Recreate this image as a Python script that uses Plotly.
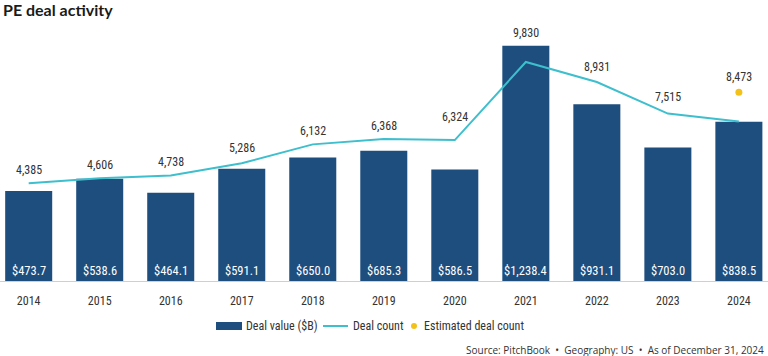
import plotly.graph_objects as go

years = ["2014", "2015", "2016", "2017", "2018", "2019", "2020", "2021", "2022", "2023", "2024"]
deal_value = [473.7, 538.6, 464.1, 591.1, 650.0, 685.3, 586.5, 1238.4, 931.1, 703.0, 838.5]
deal_count = [4385, 4606, 4738, 5286, 6132, 6368, 6324, 9830, 8931, 7515, 7160]
count_labels = [4385, 4606, 4738, 5286, 6132, 6368, 6324, 9830, 8931, 7515, 8473]
est_years = ["2024"]
est_count = [8473]
legend_names = ["Deal value ($B)", "Deal count", "Estimated deal count"]

BAR = "#1d4e7e"
LINE = "#3dbfcd"
DOT = "#f2c21b"
TXT = "#333333"
NARROW = "Liberation Sans Narrow, Arial Narrow, Roboto Condensed, DejaVu Sans Condensed, sans-serif"
FS = 12

W, H = 768, 356
ML, MR, MT, MB = 0, 0, 20, 75
PH = H - MT - MB
R1 = 1374.0
R2 = 11714.0


def px(xp):
    return (xp - ML) / (W - ML - MR)


def py(yp):
    return (H - MB - yp) / PH


fig = go.Figure()
fig.add_trace(go.Bar(x=years, y=deal_value, name=legend_names[0], marker_color=BAR,
                     marker_line_width=0, yaxis="y", showlegend=False))
fig.add_trace(go.Scatter(x=years, y=deal_count, name=legend_names[1], mode="lines",
                         line=dict(color=LINE, width=2), yaxis="y2", showlegend=False))
fig.add_trace(go.Scatter(x=est_years, y=est_count, name=legend_names[2], mode="markers",
                         marker=dict(color=DOT, size=7), yaxis="y2", showlegend=False))

annotations = []
shapes = []
# bar value labels
for i, v in enumerate(deal_value):
    annotations.append(dict(x=i, y=0, xref="x", yref="y", text=f"${v:,.1f}", showarrow=False,
                            yanchor="middle", yshift=11,
                            font=dict(family=NARROW, size=12.5, color="white")))
# count labels above line / bar / estimate
extra = {"2020": 10, "2023": 4, "2022": 2, "2024": 2, "2017": 2}
for i, yr in enumerate(years):
    base = max(deal_count[i], deal_value[i] * R2 / R1)
    if yr in est_years:
        base = max(base, est_count[est_years.index(yr)])
    annotations.append(dict(x=i, y=base, xref="x", yref="y2", text=f"{count_labels[i]:,}",
                            showarrow=False, yanchor="middle", yshift=13 + extra.get(yr, 0),
                            font=dict(family=NARROW, size=FS, color=TXT)))
# title
annotations.append(dict(x=0, y=py(9), xref="paper", yref="paper", text="<b>PE deal activity</b>",
                        showarrow=False, xanchor="left", yanchor="middle", xshift=1,
                        font=dict(family="Lato, Open Sans, sans-serif", size=16, color="#1a1a1a")))
# source
annotations.append(dict(x=1, y=py(350), xref="paper", yref="paper",
                        text="Source: PitchBook  •  Geography: US  •  As of December 31, 2024",
                        showarrow=False, xanchor="right", yanchor="middle", xshift=-2,
                        font=dict(family="Open Sans, sans-serif", size=10, color=TXT)))

# custom legend
LY = 326
shapes.append(dict(type="rect", xref="paper", yref="paper", x0=px(216), x1=px(242),
                   y0=py(LY + 4), y1=py(LY - 4), fillcolor=BAR, line_width=0))
shapes.append(dict(type="line", xref="paper", yref="paper", x0=px(323), x1=px(348),
                   y0=py(LY), y1=py(LY), line=dict(color=LINE, width=2)))
shapes.append(dict(type="circle", xref="paper", yref="paper", x0=px(411), x1=px(417),
                   y0=py(LY + 3), y1=py(LY - 3), fillcolor=DOT, line_width=0))
for name, xl in zip(legend_names, [244, 351, 422]):
    annotations.append(dict(x=px(xl), y=py(LY), xref="paper", yref="paper", text=name,
                            showarrow=False, xanchor="left", yanchor="middle",
                            font=dict(family=NARROW, size=FS, color=TXT)))

fig.update_layout(
    width=W, height=H,
    margin=dict(l=ML, r=MR, t=MT, b=MB, pad=0),
    paper_bgcolor="white", plot_bgcolor="white",
    bargap=0.338,
    showlegend=False,
    xaxis=dict(type="category", range=[-0.404, 10.41], showgrid=False, showline=True,
               linecolor="#cfcfcf", linewidth=1, ticks="", ticklabelstandoff=9,
               tickfont=dict(family=NARROW, size=FS, color=TXT)),
    yaxis=dict(range=[0, R1], visible=False, showgrid=False),
    yaxis2=dict(range=[0, R2], overlaying="y", side="right", visible=False, showgrid=False),
    annotations=annotations,
    shapes=shapes,
)

fig.write_html("out.html", config={"displayModeBar": False},
               post_script="document.body.style.margin='0';document.body.style.overflow='hidden';")
